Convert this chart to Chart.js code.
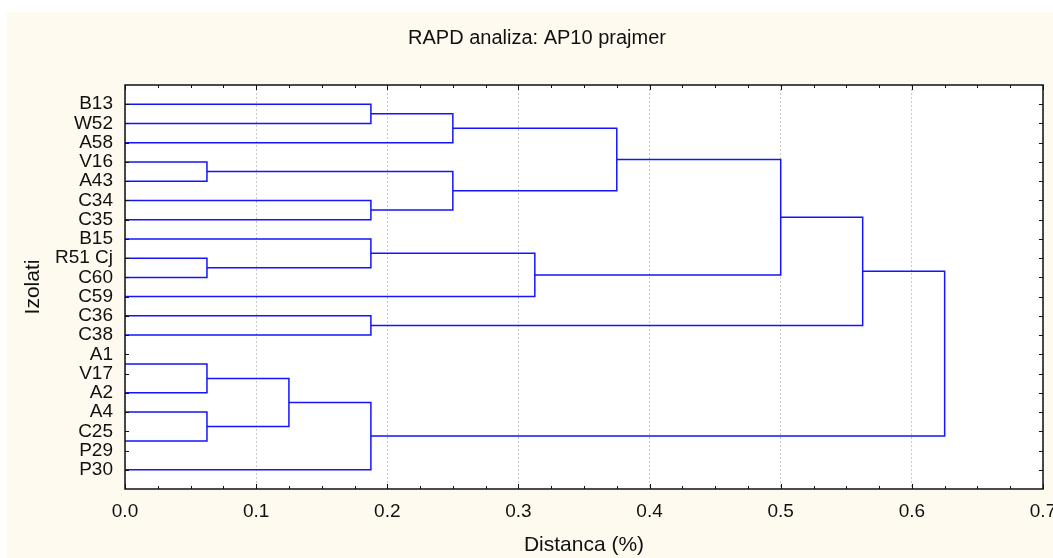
<!DOCTYPE html>
<html>
<head>
<meta charset="utf-8">
<script src="https://cdn.jsdelivr.net/npm/chart.js@4"></script>
<style>
  html, body { margin: 0; padding: 0; background: #fff; }
  canvas { display: block; }
</style>
</head>
<body>
<canvas id="myChart" width="1053" height="558"></canvas>
<script>
// Row labels, top to bottom
const isolates = ["B13", "W52", "A58", "V16", "A43", "C34", "C35", "B15", "R51 Cj", "C60",
  "C59", "C36", "C38", "A1", "V17", "A2", "A4", "C25", "P29", "P30"];
// Row of each leaf line in the tree (18 leaves, two of them sit between label rows)
const leafRows = [0, 1, 2, 3, 4, 5, 6, 7, 8, 9, 10, 11, 12, 13.5, 15, 16, 17.5, 19];
// Joins: ids 0-17 are leaves, id 18 + i is the i-th join
const joinA = [0, 18, 3, 5, 20, 19, 8, 7, 25, 23, 11, 27, 13, 15, 30, 32, 29];
const joinB = [1, 2, 4, 6, 21, 22, 9, 24, 10, 26, 12, 28, 14, 16, 31, 17, 33];
const joinDist = [0.1875, 0.25, 0.0625, 0.1875, 0.25, 0.375, 0.0625, 0.1875, 0.3125, 0.5,
  0.1875, 0.5625, 0.0625, 0.0625, 0.125, 0.1875, 0.625];

Chart.defaults.font.family = '"Liberation Sans", Arial, sans-serif';
Chart.defaults.color = "#111";

// build one bracket per join
const nodeRow = leafRows.slice();
const nodeDist = leafRows.map(() => 0);
const datasets = joinA.map((a, i) => {
  const b = joinB[i];
  const d = joinDist[i];
  nodeRow.push((nodeRow[a] + nodeRow[b]) / 2);
  nodeDist.push(d);
  return {
    data: [
      { x: nodeDist[a], y: nodeRow[a] },
      { x: d, y: nodeRow[a] },
      { x: d, y: nodeRow[b] },
      { x: nodeDist[b], y: nodeRow[b] },
    ],
    showLine: true,
    borderColor: "#1414ff",
    borderWidth: 1.5,
    pointRadius: 0,
    tension: 0,
  };
});

// cream page, white plot, framed box with inward ticks
const framePlugin = {
  id: "frame",
  beforeDraw(chart) {
    const { ctx, chartArea: a } = chart;
    ctx.save();
    ctx.fillStyle = "#fffaf0";
    ctx.fillRect(7, 12, chart.width - 7, chart.height - 12);
    ctx.fillStyle = "#fff";
    ctx.fillRect(a.left, a.top, a.right - a.left, a.bottom - a.top);
    ctx.restore();
  },
  afterDraw(chart) {
    const { ctx, chartArea: a, scales } = chart;
    ctx.save();
    ctx.strokeStyle = "#111";
    ctx.lineWidth = 1;
    ctx.beginPath();
    for (let k = 0; k <= 28; k++) {
      const px = Math.round(scales.x.getPixelForValue(k * 0.025)) + 0.5;
      const len = k % 4 === 0 ? 5 : 3;
      ctx.moveTo(px, a.bottom); ctx.lineTo(px, a.bottom - len);
      ctx.moveTo(px, a.top); ctx.lineTo(px, a.top + len);
    }
    isolates.forEach((name, r) => {
      const py = Math.round(scales.y.getPixelForValue(r)) + 0.5;
      ctx.moveTo(a.left, py); ctx.lineTo(a.left + 4, py);
      ctx.moveTo(a.right, py); ctx.lineTo(a.right - 4, py);
    });
    ctx.stroke();
    ctx.lineWidth = 1.5;
    ctx.strokeRect(a.left, a.top, a.right - a.left, a.bottom - a.top);
    ctx.restore();
  },
};

new Chart(document.getElementById("myChart"), {
  type: "scatter",
  data: { datasets: datasets },
  plugins: [framePlugin],
  options: {
    responsive: false,
    animation: false,
    devicePixelRatio: 1,
    layout: { padding: { left: 21, right: 0, top: 0, bottom: 0 } },
    plugins: {
      legend: { display: false },
      tooltip: { enabled: false },
      title: {
        display: true,
        text: "RAPD analiza: AP10 prajmer",
        font: { size: 20, weight: "normal" },
        padding: { top: 26, bottom: 35 },
      },
    },
    scales: {
      x: {
        type: "linear",
        min: 0,
        max: 0.7,
        afterFit(s) { s.height = 69; s.paddingRight = 10; s.paddingLeft = 0; },
        ticks: {
          stepSize: 0.1,
          autoSkip: false,
          maxRotation: 0,
          padding: 11,
          font: { size: 19 },
          callback: (v) => v.toFixed(1),
        },
        grid: { color: "#c8c8c8", lineWidth: 1, drawTicks: false },
        border: { display: false, dash: [2, 2] },
        title: { display: true, text: "Distanca (%)", font: { size: 21 }, padding: { top: 0, bottom: 0 } },
      },
      y: {
        type: "linear",
        reverse: true,
        min: -1,
        max: 20,
        afterFit(s) { s.width = 104; s.paddingTop = 0; s.paddingBottom = 0; },
        ticks: {
          stepSize: 1,
          autoSkip: false,
          maxTicksLimit: 100,
          padding: 12,
          font: { size: 19 },
          callback: (v) => (isolates[v] !== undefined ? isolates[v] : ""),
        },
        grid: { display: false, drawTicks: false },
        border: { display: false },
        title: { display: true, text: "Izolati", font: { size: 21 }, padding: { top: 0, bottom: 0 } },
      },
    },
  },
});
</script>
</body>
</html>
